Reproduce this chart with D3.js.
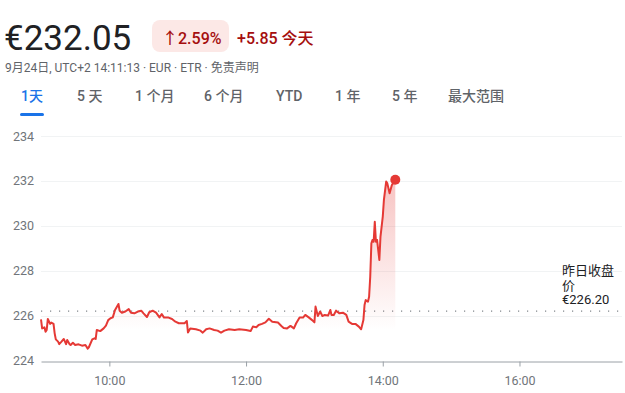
<!DOCTYPE html>
<html>
<head>
<meta charset="utf-8">
<script src="https://cdn.jsdelivr.net/npm/d3@7"></script>
<style>
  body { margin: 0; background: #fff; }
  svg { display: block; font-family: Roboto, "Noto Sans CJK SC", sans-serif; }
</style>
</head>
<body>
<svg id="chart" width="625" height="393"></svg>
<script>
// intraday prices, 24 Sep
const times = ["09:00","09:01","09:03","09:04","09:05","09:06","09:08","09:09","09:11","09:12","09:13","09:15","09:16","09:18","09:20","09:22","09:23","09:25","09:26","09:28","09:30","09:33","09:36","09:39","09:41","09:42","09:45","09:47","09:48","09:49","09:52","09:55","09:57","09:59","10:01","10:03","10:05","10:08","10:09","10:11","10:14","10:17","10:19","10:22","10:25","10:28","10:30","10:33","10:35","10:38","10:41","10:44","10:46","10:48","10:52","10:55","10:58","11:01","11:06","11:08","11:09","11:11","11:16","11:20","11:22","11:25","11:28","11:32","11:35","11:38","11:41","11:45","11:50","11:54","12:00","12:04","12:06","12:09","12:11","12:14","12:17","12:20","12:23","12:28","12:31","12:33","12:36","12:39","12:42","12:44","12:47","12:50","12:52","12:55","12:58","13:00","13:01","13:03","13:05","13:07","13:09","13:12","13:14","13:15","13:17","13:19","13:22","13:25","13:28","13:30","13:33","13:36","13:39","13:41","13:43","13:44","13:45","13:47","13:48","13:49","13:50","13:51","13:52","13:53","13:54","13:55","13:57","13:58","14:00","14:01","14:03","14:04","14:06","14:08","14:11"];
const prices = [225.83,225.43,225.48,225.28,225.36,225.85,225.63,225.69,225.63,225.21,224.94,224.84,224.73,224.84,224.96,224.73,224.91,224.73,224.69,224.79,224.69,224.72,224.66,224.69,224.53,224.59,224.94,224.99,224.96,225.36,225.31,225.43,225.55,225.80,225.88,225.92,226.25,226.52,226.22,226.13,226.18,226.29,226.13,226.10,226.18,226.22,226.10,225.94,226.15,226.22,226.13,225.92,226.07,225.91,225.91,225.85,225.73,225.66,225.66,225.76,225.25,225.43,225.39,225.33,225.24,225.39,225.43,225.36,225.33,225.24,225.33,225.39,225.36,225.39,225.36,225.31,225.51,225.48,225.58,225.63,225.70,225.86,225.73,225.69,225.54,225.45,225.43,225.54,225.43,225.66,225.92,225.91,226.03,225.92,225.80,225.70,226.40,225.98,226.18,225.98,226.03,226.00,226.25,226.03,226.03,226.22,226.10,226.13,226.03,225.73,225.63,225.63,225.51,225.39,225.80,226.47,226.69,226.62,226.84,227.73,229.22,229.37,229.29,230.18,229.29,229.37,228.48,229.52,230.41,231.15,231.97,231.89,231.45,231.82,232.05];

const prevClose = 226.20;
const yTicks = [224, 226, 228, 230, 232, 234];
const xTicks = ["10:00", "12:00", "14:00", "16:00"];
const tabs = ["1天", "5 天", "1 个月", "6 个月", "YTD", "1 年", "5 年", "最大范围"];
const tabX = [21, 77, 135, 204, 276, 335, 392, 448];

const parse = d3.timeParse("%Y-%m-%d %H:%M");
const day = "2024-09-24 ";
const data = times.map((t, i) => ({ t: parse(day + t), v: prices[i] }));

const svg = d3.select("#chart");

// header
svg.append("text").attr("x", 4).attr("y", 50)
  .attr("font-size", 35).attr("fill", "#202124")
  .text("€232.05");

svg.append("rect").attr("x", 152).attr("y", 20).attr("width", 77).attr("height", 32)
  .attr("rx", 8).attr("fill", "#fce8e6");
svg.append("text").attr("x", 162).attr("y", 44)
  .attr("font-size", 16).attr("font-weight", 500).attr("fill", "#a50e0e")
  .text("↑2.59%");
svg.append("text").attr("x", 237).attr("y", 44)
  .attr("font-size", 16).attr("font-weight", 500).attr("fill", "#a50e0e")
  .text("+5.85 今天");

svg.append("text").attr("x", 5).attr("y", 72)
  .attr("font-size", 12).attr("fill", "#5f6368")
  .text("9月24日, UTC+2 14:11:13 · EUR · ETR · 免责声明");

// tabs
svg.selectAll(".tab").data(tabs).enter().append("text")
  .attr("class", "tab")
  .attr("x", (d, i) => tabX[i]).attr("y", 101)
  .attr("font-size", 14).attr("font-weight", 500)
  .attr("fill", (d, i) => i == 0 ? "#1a73e8" : "#5f6368")
  .text(d => d);
svg.append("rect").attr("x", 20).attr("y", 113).attr("width", 24).attr("height", 3)
  .attr("rx", 1.5).attr("fill", "#1a73e8");

// scales
const x = d3.scaleTime()
  .domain([parse(day + "09:00"), parse(day + "17:30")])
  .range([41, 622]);
const y = d3.scaleLinear().domain([224, 234]).range([360.5, 136]);

// grid
svg.selectAll(".grid").data(yTicks.slice(1)).enter().append("line")
  .attr("class", "grid")
  .attr("x1", 41).attr("x2", 622)
  .attr("y1", d => Math.round(y(d)) + 0.5).attr("y2", d => Math.round(y(d)) + 0.5)
  .attr("stroke", "#f1f3f4");

svg.selectAll(".ylab").data(yTicks).enter().append("text")
  .attr("class", "ylab")
  .attr("x", 34).attr("y", d => y(d) + 4.5)
  .attr("text-anchor", "end").attr("font-size", 12.5).attr("fill", "#70757a")
  .text(d => d);

// x axis
const xAxis = d3.axisBottom(x)
  .tickValues(xTicks.map(t => parse(day + t)))
  .tickFormat(d3.timeFormat("%H:%M"))
  .tickSize(5).tickSizeOuter(0);
const gx = svg.append("g").attr("transform", `translate(0,${Math.round(y(224)) + 0.5})`).call(xAxis);
gx.select(".domain").attr("stroke", "#9aa0a6");
gx.selectAll(".tick line").attr("stroke", "#9aa0a6");
gx.selectAll(".tick text").attr("font-size", 12.5).attr("fill", "#70757a")
  .attr("font-family", "Roboto, sans-serif").attr("dy", "1.2em");

// previous close
svg.append("line")
  .attr("x1", 41).attr("x2", 622)
  .attr("y1", y(prevClose)).attr("y2", y(prevClose))
  .attr("stroke", "#80868b").attr("stroke-width", 1.2)
  .attr("stroke-dasharray", "1.2,7.8");

const pc = svg.append("text").attr("x", 562).attr("font-size", 13).attr("fill", "#202124");
pc.append("tspan").attr("x", 562).attr("y", 275).text("昨日收盘");
pc.append("tspan").attr("x", 562).attr("y", 290).text("价");
pc.append("tspan").attr("x", 562).attr("y", 304).text("€" + prevClose.toFixed(2));

// area + line
const grad = svg.append("defs").append("linearGradient")
  .attr("id", "fade").attr("gradientUnits", "userSpaceOnUse")
  .attr("x1", 0).attr("x2", 0).attr("y1", y(232.05)).attr("y2", 330);
grad.append("stop").attr("offset", 0).attr("stop-color", "#e53935").attr("stop-opacity", 0.3);
grad.append("stop").attr("offset", 1).attr("stop-color", "#e53935").attr("stop-opacity", 0);

svg.append("path").datum(data)
  .attr("fill", "url(#fade)")
  .attr("d", d3.area().x(d => x(d.t)).y0(y(224)).y1(d => y(d.v)));

svg.append("path").datum(data)
  .attr("fill", "none").attr("stroke", "#e53935").attr("stroke-width", 2)
  .attr("stroke-linejoin", "round")
  .attr("d", d3.line().x(d => x(d.t)).y(d => y(d.v)));

const last = data[data.length - 1];
svg.append("circle").attr("cx", x(last.t)).attr("cy", y(last.v)).attr("r", 5)
  .attr("fill", "#e53935");
</script>
</body>
</html>
